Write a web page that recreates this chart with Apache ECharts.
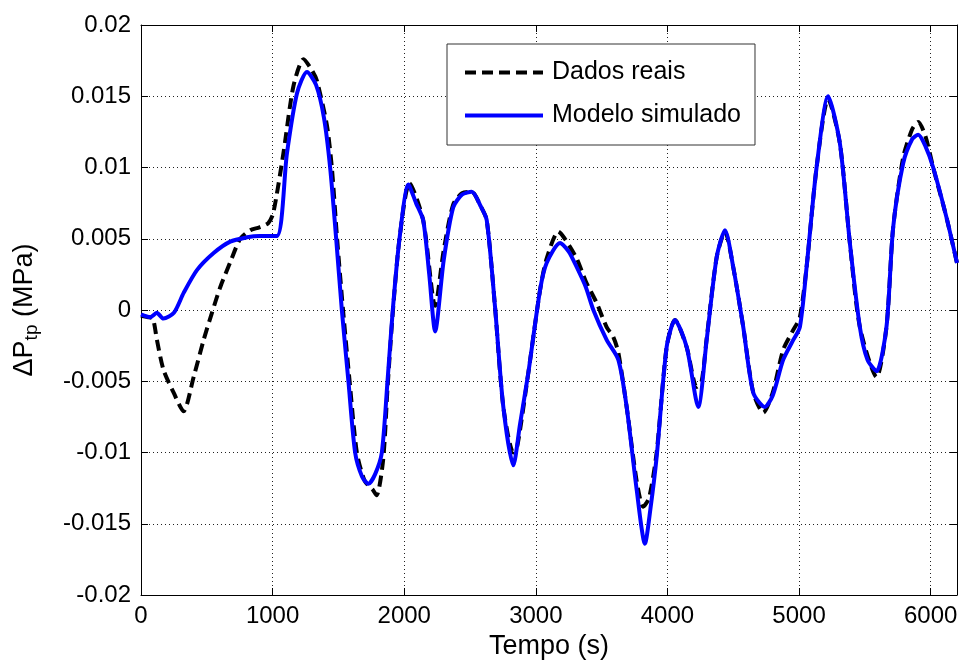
<!DOCTYPE html>
<html>
<head>
<meta charset="utf-8">
<script src="https://cdn.jsdelivr.net/npm/echarts@6/dist/echarts.min.js"></script>
<style>
html,body{margin:0;padding:0;background:#fff;}
#chart{width:960px;height:668px;}
</style>
</head>
<body>
<div id="chart"></div>
<script>
// ---- Data ----
var seriesNames = ['Dados reais', 'Modelo simulado'];

var realX = [0, 50, 90, 121, 171, 248, 323, 400, 476, 539, 602, 680, 754, 830, 900, 967, 1005, 1082, 1158, 1235, 1300, 1336, 1412, 1450, 1490, 1535, 1585, 1640, 1700, 1760, 1790, 1840, 1873, 1913, 1964, 2040, 2144, 2235, 2300, 2372, 2440, 2513, 2580, 2627, 2690, 2753, 2829, 2860, 2943, 3032, 3082, 3171, 3220, 3311, 3380, 3462, 3538, 3589, 3627, 3690, 3766, 3816, 3860, 3918, 3994, 4057, 4146, 4222, 4260, 4298, 4374, 4437, 4500, 4576, 4652, 4728, 4800, 4879, 4950, 5006, 5057, 5133, 5221, 5310, 5386, 5462, 5589, 5664, 5715, 5791, 5860, 5905, 5960, 6019, 6120, 6200];
var realY = [-0.0004, -0.0005, -0.0006, -0.0021, -0.0042, -0.0058, -0.0071, -0.0047, -0.0021, -0.0002, 0.0016, 0.0034, 0.0050, 0.0056, 0.0058, 0.0061, 0.0068, 0.0110, 0.0157, 0.0176, 0.0168, 0.0161, 0.0130, 0.0100, 0.0050, 0.0000, -0.0050, -0.0100, -0.0120, -0.0126, -0.0130, -0.0105, -0.0055, -0.0002, 0.0050, 0.0089, 0.0063, 0.0003, 0.0042, 0.0074, 0.0082, 0.0083, 0.0073, 0.0063, 0.0002, -0.0068, -0.0100, -0.0095, -0.0044, 0.0014, 0.0036, 0.0055, 0.0050, 0.0036, 0.0020, 0.0005, -0.0012, -0.0019, -0.0030, -0.0068, -0.0120, -0.0138, -0.0132, -0.0100, -0.0026, -0.0007, -0.0026, -0.0054, -0.0050, -0.0020, 0.0037, 0.0055, 0.0030, -0.0012, -0.0058, -0.0072, -0.0058, -0.0028, -0.0015, -0.0005, 0.0030, 0.0100, 0.0148, 0.0117, 0.0047, -0.0012, -0.0047, -0.0012, 0.0058, 0.0107, 0.0127, 0.0132, 0.0122, 0.0100, 0.0065, 0.0033];

var simX = [0, 70, 120, 170, 250, 324, 425, 552, 678, 805, 900, 1033, 1109, 1185, 1261, 1330, 1390, 1437, 1483, 1526, 1576, 1627, 1680, 1728, 1780, 1830, 1873, 1913, 1964, 2032, 2090, 2144, 2190, 2235, 2300, 2372, 2440, 2513, 2580, 2627, 2690, 2753, 2829, 2880, 2943, 3032, 3082, 3184, 3250, 3311, 3380, 3437, 3538, 3627, 3690, 3766, 3829, 3870, 3918, 3994, 4057, 4146, 4234, 4298, 4374, 4437, 4500, 4576, 4652, 4740, 4800, 4879, 4950, 5006, 5057, 5133, 5221, 5310, 5386, 5462, 5520, 5589, 5664, 5715, 5791, 5860, 5905, 5960, 6019, 6120, 6200];
var simY = [-0.0003, -0.0005, -0.0002, -0.0006, -0.0002, 0.0012, 0.0028, 0.0040, 0.0048, 0.0051, 0.0052, 0.0052, 0.0110, 0.0152, 0.0167, 0.0158, 0.0135, 0.0100, 0.0050, 0.0000, -0.0050, -0.0100, -0.0117, -0.0122, -0.0115, -0.0100, -0.0050, 0.0000, 0.0050, 0.0088, 0.0075, 0.0063, 0.0025, -0.0015, 0.0035, 0.0072, 0.0081, 0.0083, 0.0073, 0.0063, 0.0002, -0.0068, -0.0109, -0.0080, -0.0044, 0.0014, 0.0033, 0.0047, 0.0041, 0.0030, 0.0016, 0.0000, -0.0021, -0.0035, -0.0068, -0.0126, -0.0164, -0.0140, -0.0103, -0.0026, -0.0007, -0.0026, -0.0068, -0.0021, 0.0037, 0.0056, 0.0030, -0.0012, -0.0058, -0.0068, -0.0060, -0.0035, -0.0022, -0.0012, 0.0030, 0.0100, 0.0150, 0.0117, 0.0047, -0.0012, -0.0035, -0.0043, -0.0012, 0.0058, 0.0103, 0.0120, 0.0123, 0.0115, 0.0100, 0.0065, 0.0033];

var xTicks = [0, 1000, 2000, 3000, 4000, 5000, 6000];
var yTicks = [-0.02, -0.015, -0.01, -0.005, 0, 0.005, 0.01, 0.015, 0.02];

// ---- Build ----
function pairs(xs, ys) { return xs.map(function (x, i) { return [x, ys[i]]; }); }

var FONT = '"Liberation Sans", Arial, Helvetica, sans-serif';
var gridLine = { show: true, lineStyle: { color: '#222', width: 1, type: [1, 3] } };

function xLabel(v) { return xTicks.indexOf(Math.round(v)) >= 0 ? String(Math.round(v)) : ''; }
function yLabel(v) { return String(+v.toFixed(3)); }

var chart = echarts.init(document.getElementById('chart'), null, { renderer: 'canvas' });
chart.setOption({
  backgroundColor: '#fff',
  animation: false,
  textStyle: { fontFamily: FONT },
  grid: { left: 141, right: 3, top: 25, bottom: 73, containLabel: false, outerBoundsMode: 'none' },
  legend: {
    data: seriesNames,
    orient: 'vertical',
    left: 447, top: 44,
    padding: [16, 14, 17, 16],
    itemGap: 18,
    itemWidth: 78, itemHeight: 25,
    backgroundColor: '#fff',
    borderColor: '#333', borderWidth: 1,
    itemStyle: { color: 'transparent', borderWidth: 0, opacity: 0 },
    lineStyle: { width: 4 },
    textStyle: { fontSize: 25, color: '#000', fontFamily: FONT, padding: [0, 0, 0, 4] }
  },
  xAxis: [{
    type: 'value', min: 0, max: 6200, interval: 1000,
    name: 'Tempo (s)', nameLocation: 'middle', nameGap: 31,
    nameTextStyle: { fontSize: 27, color: '#000', fontFamily: FONT },
    axisLine: { show: true, onZero: false, lineStyle: { color: '#000', width: 1 } },
    axisTick: { show: true, inside: true, length: 7, lineStyle: { color: '#000' } },
    axisLabel: { fontSize: 24, color: '#000', margin: 9, formatter: xLabel, showMaxLabel: true },
    splitLine: gridLine
  }, {
    type: 'value', min: 0, max: 6200, interval: 1000, position: 'top',
    axisLine: { show: true, onZero: false, lineStyle: { color: '#000', width: 1 } },
    axisTick: { show: true, inside: true, length: 7, lineStyle: { color: '#000' } },
    axisLabel: { show: false }, splitLine: { show: false }
  }],
  yAxis: [{
    type: 'value', min: -0.02, max: 0.02, interval: 0.005,
    name: '{a|ΔP}{b|tp}{a| (MPa)}', nameLocation: 'middle', nameGap: 100,
    nameTextStyle: {
      color: '#000',
      rich: {
        a: { fontSize: 27, color: '#000', fontFamily: FONT, lineHeight: 32 },
        b: { fontSize: 19, color: '#000', fontFamily: FONT, lineHeight: 19, padding: [12, 0, 0, 0], verticalAlign: 'bottom' }
      }
    },
    axisLine: { show: true, onZero: false, lineStyle: { color: '#000', width: 1 } },
    axisTick: { show: true, inside: true, length: 7, lineStyle: { color: '#000' } },
    axisLabel: { fontSize: 24, color: '#000', margin: 10, formatter: yLabel },
    splitLine: gridLine
  }, {
    type: 'value', min: -0.02, max: 0.02, interval: 0.005, position: 'right',
    axisLine: { show: true, onZero: false, lineStyle: { color: '#000', width: 1 } },
    axisTick: { show: true, inside: true, length: 7, lineStyle: { color: '#000' } },
    axisLabel: { show: false }, splitLine: { show: false }
  }],
  series: [{
    name: seriesNames[0], type: 'line', xAxisIndex: 0, yAxisIndex: 0,
    data: pairs(realX, realY), showSymbol: false, symbol: 'none', smooth: 0.25,
    lineStyle: { color: '#000', width: 4, type: [11, 6] },
    itemStyle: { color: '#000' }, z: 2
  }, {
    name: seriesNames[1], type: 'line', xAxisIndex: 0, yAxisIndex: 0,
    data: pairs(simX, simY), showSymbol: false, symbol: 'none', smooth: 0.25,
    lineStyle: { color: '#0000ff', width: 4 },
    itemStyle: { color: '#0000ff' }, z: 3
  }]
});
</script>
</body>
</html>
